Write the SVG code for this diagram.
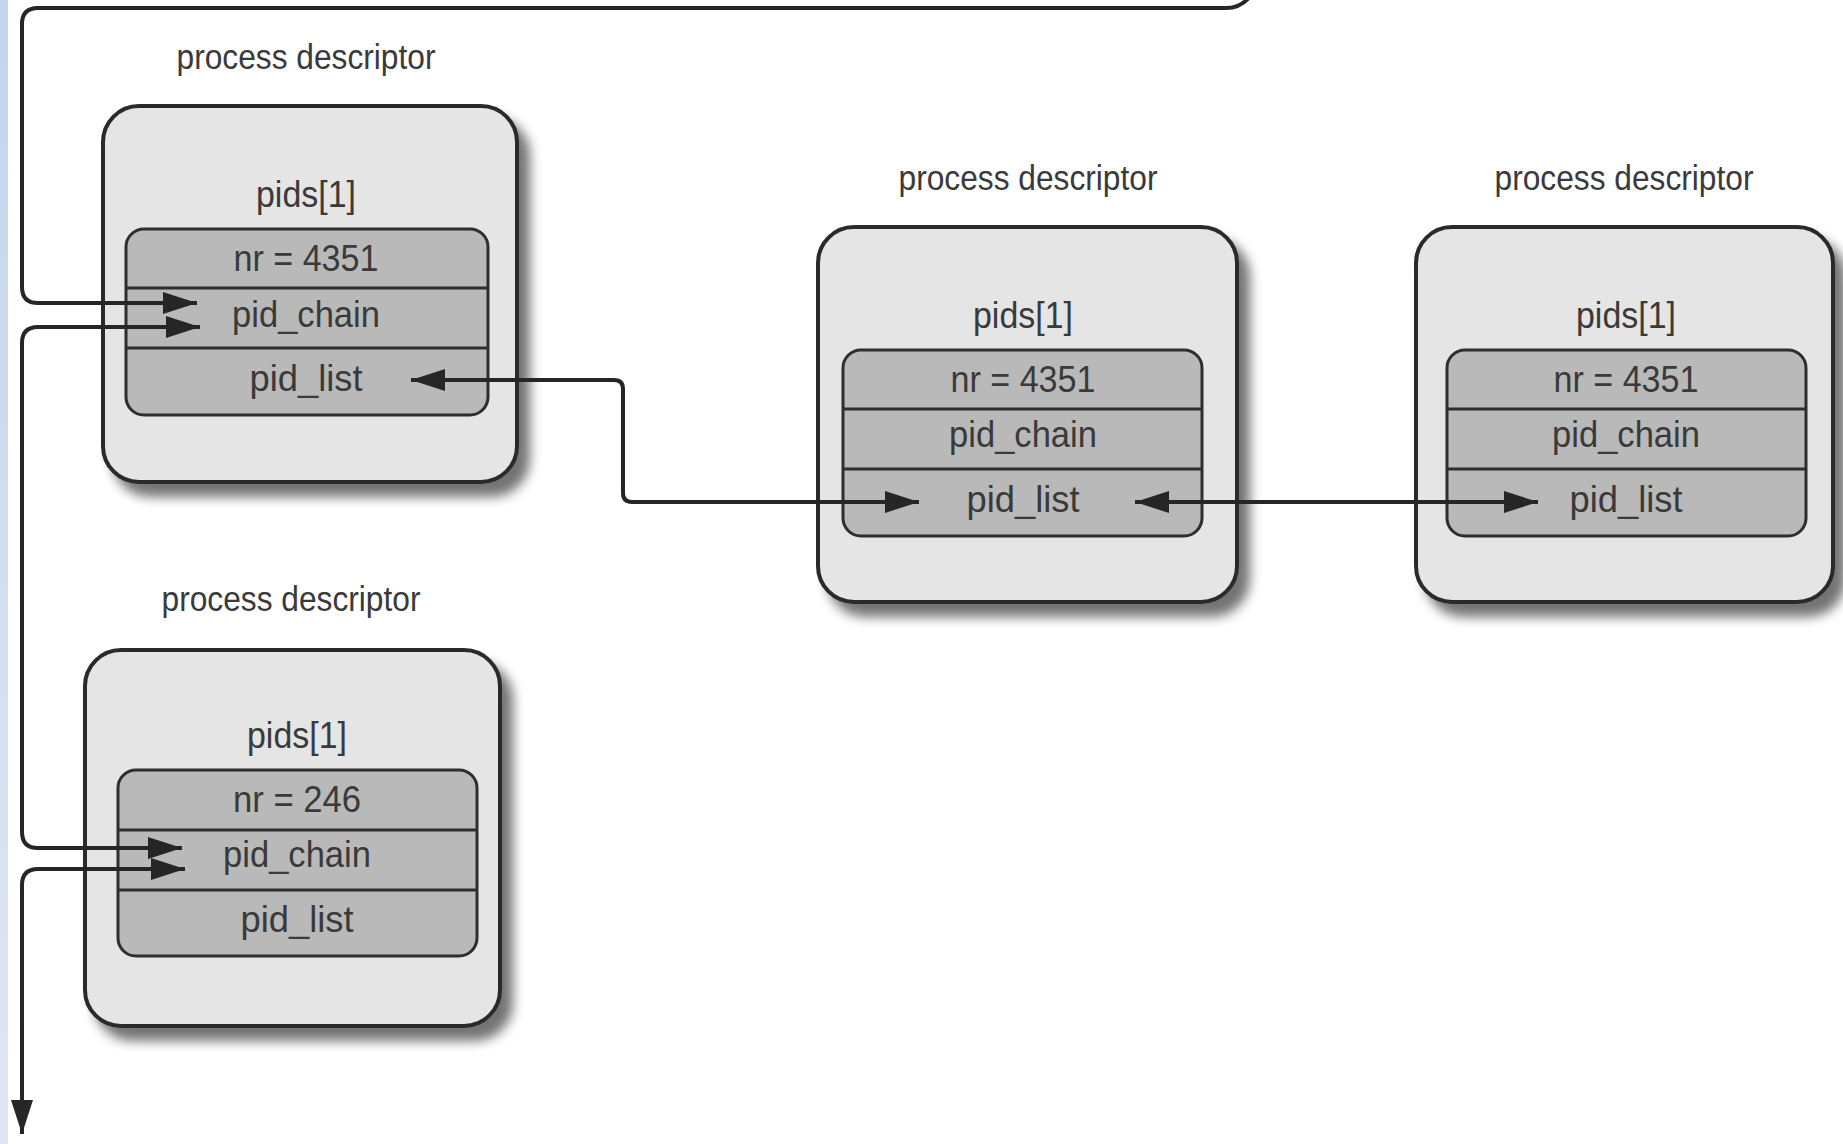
<svg xmlns="http://www.w3.org/2000/svg" width="1843" height="1144" viewBox="0 0 1843 1144">
  <style>
    .outer { fill: #e5e5e5; stroke: #2a2a2a; stroke-width: 4; }
    .inner { fill: #b9b9b9; stroke: #2e2e2e; stroke-width: 3; }
    .div { stroke: #2e2e2e; stroke-width: 3; }
    .title, .lbl { font-family: "Liberation Sans Narrow", "Liberation Sans", Arial, sans-serif; fill: #3a3a3a; text-anchor: middle; }
    .title { font-size: 35px; }
    .lbl { font-size: 36px; }
    .wire { fill: none; stroke: #262626; stroke-width: 4; stroke-linejoin: round; }
  </style>
  <defs>
    <linearGradient id="edge" x1="0" y1="0" x2="0" y2="1">
      <stop offset="0" stop-color="#c3d5ef"/>
      <stop offset="1" stop-color="#dfe7f2"/>
    </linearGradient>
    <filter id="shadow" x="-10%" y="-10%" width="130%" height="130%">
      <feGaussianBlur in="SourceAlpha" stdDeviation="6"/>
      <feOffset dx="11" dy="13" result="b"/>
      <feComponentTransfer><feFuncA type="linear" slope="0.55"/></feComponentTransfer>
      <feMerge><feMergeNode/><feMergeNode in="SourceGraphic"/></feMerge>
    </filter>
    <marker id="head" markerUnits="userSpaceOnUse" markerWidth="36" markerHeight="24" refX="34" refY="11" orient="auto-start-reverse">
      <path d="M0,0 L34,11 L0,22 z" fill="#262626"/>
    </marker>
  </defs>

  <rect width="1843" height="1144" fill="#ffffff"/>
  <rect x="0" y="0" width="8" height="1144" fill="url(#edge)"/>

  <!-- task A: top-left -->
  <g id="proc-a">
    <text class="title" x="306" y="69" textLength="259" lengthAdjust="spacingAndGlyphs">process descriptor</text>
    <rect class="outer" x="103" y="106" width="414" height="376" rx="36" filter="url(#shadow)"/>
    <text class="lbl" x="306" y="207" textLength="100" lengthAdjust="spacingAndGlyphs">pids[1]</text>
    <rect class="inner" x="126" y="229" width="362" height="186" rx="18"/>
    <line class="div" x1="126" y1="288" x2="488" y2="288"/>
    <line class="div" x1="126" y1="348" x2="488" y2="348"/>
    <text class="lbl" x="306" y="271" textLength="145" lengthAdjust="spacingAndGlyphs">nr = 4351</text>
    <text class="lbl" x="306" y="327" textLength="148" lengthAdjust="spacingAndGlyphs">pid_chain</text>
    <text class="lbl" x="306" y="391" textLength="113" lengthAdjust="spacingAndGlyphs">pid_list</text>
  </g>

  <!-- task B: middle -->
  <g id="proc-b">
    <text class="title" x="1028" y="190" textLength="259" lengthAdjust="spacingAndGlyphs">process descriptor</text>
    <rect class="outer" x="818" y="227" width="419" height="375" rx="36" filter="url(#shadow)"/>
    <text class="lbl" x="1023" y="328" textLength="100" lengthAdjust="spacingAndGlyphs">pids[1]</text>
    <rect class="inner" x="843" y="350" width="359" height="186" rx="18"/>
    <line class="div" x1="843" y1="409" x2="1202" y2="409"/>
    <line class="div" x1="843" y1="469" x2="1202" y2="469"/>
    <text class="lbl" x="1023" y="392" textLength="145" lengthAdjust="spacingAndGlyphs">nr = 4351</text>
    <text class="lbl" x="1023" y="447" textLength="148" lengthAdjust="spacingAndGlyphs">pid_chain</text>
    <text class="lbl" x="1023" y="512" textLength="113" lengthAdjust="spacingAndGlyphs">pid_list</text>
  </g>

  <!-- task C: right -->
  <g id="proc-c">
    <text class="title" x="1624" y="190" textLength="259" lengthAdjust="spacingAndGlyphs">process descriptor</text>
    <rect class="outer" x="1416" y="227" width="417" height="375" rx="36" filter="url(#shadow)"/>
    <text class="lbl" x="1626" y="328" textLength="100" lengthAdjust="spacingAndGlyphs">pids[1]</text>
    <rect class="inner" x="1447" y="350" width="359" height="186" rx="18"/>
    <line class="div" x1="1447" y1="409" x2="1806" y2="409"/>
    <line class="div" x1="1447" y1="469" x2="1806" y2="469"/>
    <text class="lbl" x="1626" y="392" textLength="145" lengthAdjust="spacingAndGlyphs">nr = 4351</text>
    <text class="lbl" x="1626" y="447" textLength="148" lengthAdjust="spacingAndGlyphs">pid_chain</text>
    <text class="lbl" x="1626" y="512" textLength="113" lengthAdjust="spacingAndGlyphs">pid_list</text>
  </g>

  <!-- task D: lower-left -->
  <g id="proc-d">
    <text class="title" x="291" y="611" textLength="259" lengthAdjust="spacingAndGlyphs">process descriptor</text>
    <rect class="outer" x="85" y="650" width="415" height="376" rx="36" filter="url(#shadow)"/>
    <text class="lbl" x="297" y="748" textLength="100" lengthAdjust="spacingAndGlyphs">pids[1]</text>
    <rect class="inner" x="118" y="770" width="359" height="186" rx="18"/>
    <line class="div" x1="118" y1="830" x2="477" y2="830"/>
    <line class="div" x1="118" y1="890" x2="477" y2="890"/>
    <text class="lbl" x="297" y="812" textLength="128" lengthAdjust="spacingAndGlyphs">nr = 246</text>
    <text class="lbl" x="297" y="867" textLength="148" lengthAdjust="spacingAndGlyphs">pid_chain</text>
    <text class="lbl" x="297" y="932" textLength="113" lengthAdjust="spacingAndGlyphs">pid_list</text>
  </g>

  <!-- list links -->
  <g id="connectors">
    <path class="wire" d="M1252,-6 Q1242,8 1226,8 H38 Q22,8 22,24 V287 Q22,303 38,303 H197" marker-end="url(#head)"/>
    <path class="wire" d="M200,327 H38 Q22,327 22,343 V832 Q22,848 38,848 H182" marker-start="url(#head)" marker-end="url(#head)"/>
    <path class="wire" d="M185,869 H38 Q22,869 22,885 V1134" marker-start="url(#head)" marker-end="url(#head)"/>
    <path class="wire" d="M411,380 H614 Q623,380 623,389 V493 Q623,502 632,502 H919" marker-start="url(#head)" marker-end="url(#head)"/>
    <path class="wire" d="M1135,502 H1538" marker-start="url(#head)" marker-end="url(#head)"/>
  </g>
</svg>
